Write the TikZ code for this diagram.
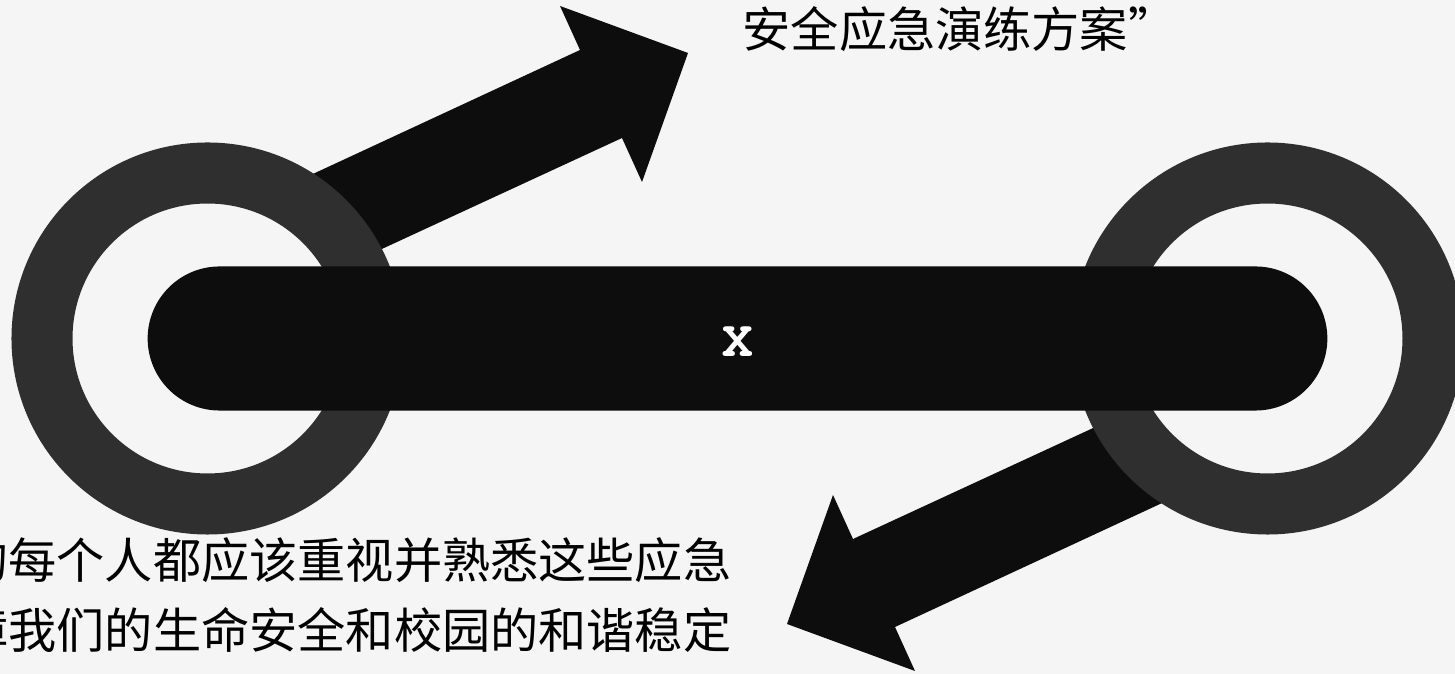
\documentclass[tikz,border=0pt]{standalone}
\usepackage{fontspec}
\newfontfamily\cjk{Noto Sans CJK SC}
\newfontfamily\monofont{TeX Gyre Cursor}
\usetikzlibrary{shapes.misc}
\definecolor{bg}{HTML}{F5F5F5}
\definecolor{ringgray}{HTML}{2F2F2F}
\definecolor{barblack}{HTML}{0D0D0D}
\tikzset{
  ring/.style={draw=ringgray, line width=0.61cm},
  bigarrow/.style={fill=barblack},
  bar/.style={rounded rectangle, fill=barblack, inner sep=0pt,
    minimum width=11.79cm, minimum height=1.44cm},
  xlabel/.style={text=white, inner sep=0pt, font=\monofont\bfseries\fontsize{14.5}{16}\selectfont},
  cntext/.style={inner sep=0pt, font=\cjk\fontsize{13.7}{19.9}\selectfont}
}
\begin{document}
\begin{tikzpicture}[x=0.01cm, y=-0.01cm]
    % Background
    \fill[bg] (0,0) rectangle (1455,674);
    \useasboundingbox (0,0) rectangle (1455,674);
    \clip (0,0) rectangle (1455,674);

    % Arrows
    \fill[bigarrow] (296.9,181.4) -- (580,50) -- (560,6) -- (688,53)
        -- (642,182) -- (622,138) -- (337.7,269.4) -- cycle;
    \fill[bigarrow] (1178.1,495.6) -- (895,627) -- (915,671) -- (787,624)
        -- (833,495) -- (853,539) -- (1137.3,407.6) -- cycle;

    % Rings
    \foreach \x in {207.5, 1267.5}
        \draw[ring] (\x,338.5) circle[radius=165.5];

    % Bar
    \node[bar] (bar) at (737.5,338.5) {};
    \node[xlabel] (xmark) at (737.5,342) {X};

    % Texts
    \node[cntext, anchor=west] (toptext) at (742,29) {安全应急演练方案”};
    \node[cntext, anchor=east, align=right] (bottomtext) at (732,595)
        {的每个人都应该重视并熟悉这些应急\\障我们的生命安全和校园的和谐稳定};
\end{tikzpicture}
\end{document}
